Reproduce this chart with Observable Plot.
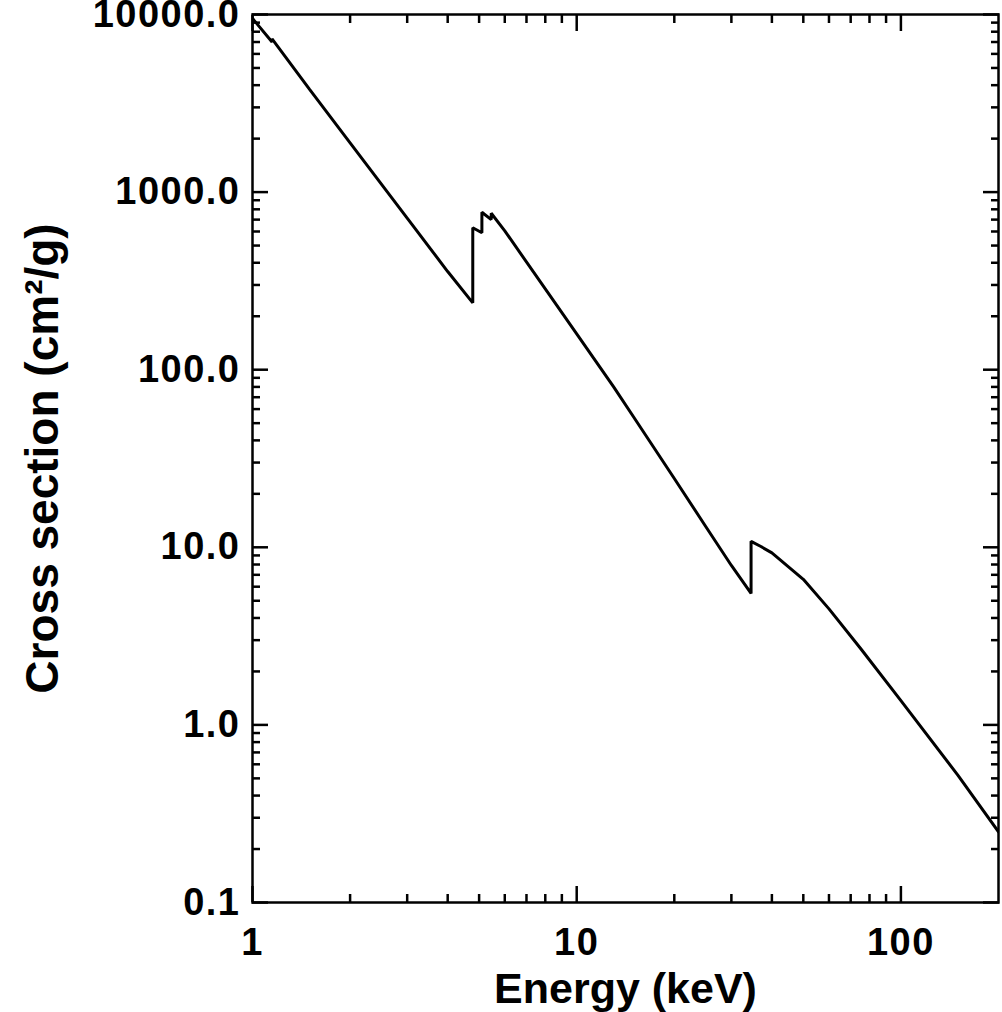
<!DOCTYPE html>
<html>
<head>
<meta charset="utf-8">
<script src="https://cdn.jsdelivr.net/npm/d3@7"></script>
<script src="https://cdn.jsdelivr.net/npm/@observablehq/plot@0.6"></script>
<style>
  html, body { margin: 0; padding: 0; background: white; }
  g[aria-label="x-axis tick label"] text,
  g[aria-label="y-axis tick label"] text { letter-spacing: 1.5px; }
</style>
</head>
<body>
<div id="chart"></div>
<script>
// Energy (keV) and mass attenuation cross section (cm^2/g)
const energy = [1, 1.149, 1.149, 1.5, 2, 3, 4, 4.78, 4.78, 5.1, 5.1, 5.45, 5.45, 6, 8, 10, 13, 15, 20, 25, 30, 34.5, 34.5, 37, 40, 50, 60, 75, 100, 150, 200];
const crossSection = [9500, 7000, 7300, 3790, 1895, 714, 357, 238, 630, 590, 770, 700, 760, 605, 285, 159, 80, 54, 24.4, 13.1, 7.9, 5.5, 10.8, 10.1, 9.3, 6.6, 4.5, 2.7, 1.37, 0.52, 0.25];

const xLabels = [1, 10, 100];
const xMajor = [1, 10, 100];
const xMinor = [2, 3, 4, 5, 6, 7, 8, 9, 20, 30, 40, 50, 60, 70, 80, 90];
const yMajor = [0.1, 1, 10, 100, 1000, 10000];
const yMinor = [0.2,0.3,0.4,0.5,0.6,0.7,0.8,0.9, 2,3,4,5,6,7,8,9, 20,30,40,50,60,70,80,90, 200,300,400,500,600,700,800,900, 2000,3000,4000,5000,6000,7000,8000,9000];

const xTitle = "Energy (keV)";
const yTitle = "Cross section (cm²/g)";

const data = energy.map((e, i) => ({e, s: crossSection[i]}));

const W = 1002, H = 1012, ML = 252, MR = 4, MT = 14, MB = 110;
const majLen = 16, minLen = 8, tickW = 2.5;
const blank = () => "";

function tickAxes(ticks, len) {
  return [
    Plot.axisX({anchor: "bottom", ticks, tickSize: len, dy: -len, tickFormat: blank, label: null, strokeWidth: tickW}),
    Plot.axisX({anchor: "top", ticks, tickSize: len, dy: len, tickFormat: blank, label: null, strokeWidth: tickW})
  ];
}
function tickAxesY(ticks, len) {
  return [
    Plot.axisY({anchor: "left", ticks, tickSize: len, dx: len, tickFormat: blank, label: null, strokeWidth: tickW}),
    Plot.axisY({anchor: "right", ticks, tickSize: len, dx: -len, tickFormat: blank, label: null, strokeWidth: tickW})
  ];
}

const chart = Plot.plot({
  width: W,
  height: H,
  marginLeft: ML,
  marginRight: MR,
  marginTop: MT,
  marginBottom: MB,
  style: {fontFamily: "'Liberation Sans', Arial, Helvetica, sans-serif", fontWeight: "bold", background: "white", color: "black", overflow: "visible"},
  x: {type: "log", domain: [1, 200]},
  y: {type: "log", domain: [0.1, 10000]},
  marks: [
    ...tickAxes(xMajor, majLen),
    ...tickAxes(xMinor, minLen),
    ...tickAxesY(yMajor, majLen),
    ...tickAxesY(yMinor, minLen),
    Plot.axisX({ticks: xLabels, tickSize: 0, tickPadding: 26, tickFormat: d => String(d), fontSize: 38, label: null}),
    Plot.axisY({ticks: yMajor, tickSize: 0, tickPadding: 12, tickFormat: d => d.toFixed(1), fontSize: 38, label: null}),
    Plot.line(data, {x: "e", y: "s", stroke: "black", strokeWidth: 3, strokeLinejoin: "miter", clip: true}),
    Plot.frame({stroke: "black", strokeWidth: 2.5}),
    Plot.text([xTitle], {text: d => d, frameAnchor: "bottom", dy: 70, lineAnchor: "top", textAnchor: "middle", fontSize: 43, fontWeight: "bold"}),
    Plot.text([yTitle], {text: d => d, frameAnchor: "left", dx: -209, rotate: -90, lineAnchor: "middle", textAnchor: "middle", fontSize: 46, fontWeight: "bold"})
  ]
});
document.getElementById("chart").appendChild(chart);
</script>
</body>
</html>
